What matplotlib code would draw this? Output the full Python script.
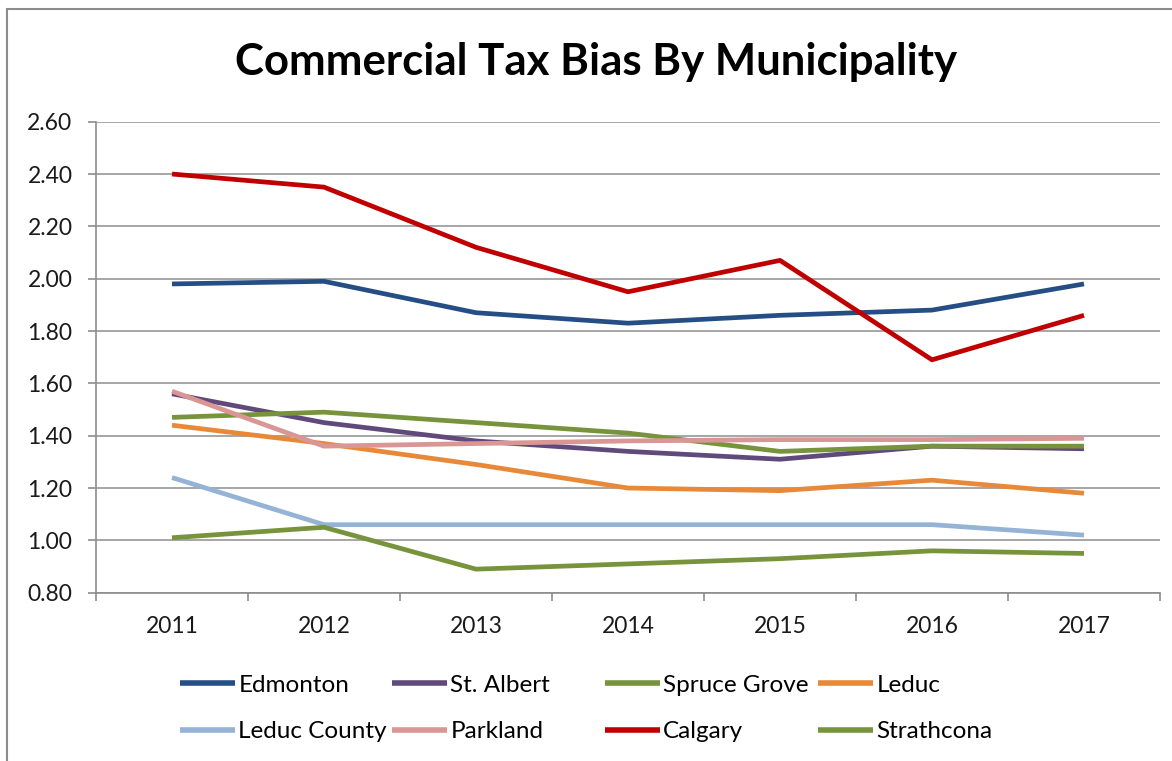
"""Commercial tax bias line chart by municipality."""

import matplotlib.pyplot as plt
from matplotlib.patches import Rectangle

years = ["2011", "2012", "2013", "2014", "2015", "2016", "2017"]

edmonton = [1.98, 1.99, 1.87, 1.83, 1.86, 1.88, 1.98]
st_albert = [1.56, 1.45, 1.38, 1.34, 1.31, 1.36, 1.35]
spruce_grove = [1.47, 1.49, 1.45, 1.41, 1.34, 1.36, 1.36]
leduc = [1.44, 1.37, 1.29, 1.20, 1.19, 1.23, 1.18]
leduc_county = [1.24, 1.06, 1.06, 1.06, 1.06, 1.06, 1.02]
parkland = [1.57, 1.36, 1.37, 1.38, 1.385, 1.385, 1.39]
calgary = [2.40, 2.35, 2.12, 1.95, 2.07, 1.69, 1.86]
strathcona = [1.01, 1.05, 0.89, 0.91, 0.93, 0.96, 0.95]

series = [
    ("Edmonton", edmonton, "#254E85"),
    ("St. Albert", st_albert, "#604A7B"),
    ("Spruce Grove", spruce_grove, "#77933C"),
    ("Leduc", leduc, "#E8893A"),
    ("Leduc County", leduc_county, "#95B3D7"),
    ("Parkland", parkland, "#D99694"),
    ("Calgary", calgary, "#C00000"),
    ("Strathcona", strathcona, "#77933C"),
]

y_ticks = [0.80, 1.00, 1.20, 1.40, 1.60, 1.80, 2.00, 2.20, 2.40, 2.60]

plt.rcParams["font.family"] = ["Lato", "DejaVu Sans"]
W, H = 1172, 761

fig = plt.figure(figsize=(W / 100, H / 100), dpi=100)
ax = fig.add_axes([96 / W, 1 - 592.7 / H, 1064 / W, 471 / H])

x = list(range(len(years)))
lines = []
for name, values, color in series:
    (ln,) = ax.plot(x, values, color=color, lw=3.4, label=name,
                    solid_capstyle="butt", solid_joinstyle="round")
    lines.append(ln)

ax.set_xlim(-0.5, len(years) - 0.5)
ax.set_ylim(0.80, 2.60)
ax.set_yticks(y_ticks)
ax.set_yticklabels([f"{v:.2f}" for v in y_ticks], fontsize=16.5, color="#1A1A1A")
ax.set_xticks(x)
ax.set_xticklabels(years, fontsize=16.5, color="#1A1A1A")
ax.tick_params(axis="x", length=0, pad=17)
ax.tick_params(axis="y", length=6, width=1.2, color="#8C8C8C", pad=11)
ax.set_xticks([i - 0.5 for i in range(len(years) + 1)], minor=True)
ax.tick_params(axis="x", which="minor", length=6, width=1.2, color="#8C8C8C")

ax.grid(axis="y", color="#A6A6A6", lw=1.4)
ax.set_axisbelow(True)
for side in ("top", "right"):
    ax.spines[side].set_visible(False)
for side in ("left", "bottom"):
    ax.spines[side].set_color("#8C8C8C")
    ax.spines[side].set_linewidth(1.2)

fig.text(596 / W, 1 - 62 / H, "Commercial Tax Bias By Municipality",
         ha="center", va="center", fontsize=31.5, fontweight="bold")

# legend laid out row by row in four equal-width columns
col_x = [180, 392, 605, 818]
for col, left in enumerate(col_x):
    handles = [lines[col], lines[col + 4]]
    leg = fig.legend(handles=handles, labels=[h.get_label() for h in handles],
                     loc="center left", bbox_to_anchor=(left / W, 1 - 708.5 / H),
                     frameon=False, fontsize=17.5, handlelength=2.25,
                     handletextpad=0.15, labelspacing=1.05,
                     borderaxespad=0, borderpad=0)
    for h in leg.legend_handles:
        h.set_linewidth(4.0)

# outer chart frame
fig.patches.append(Rectangle((7 / W, -0.05), 1.2, 1 - 9 / H + 0.05,
                             transform=fig.transFigure, fill=False,
                             edgecolor="#8C8C8C", lw=1.5))

fig.savefig("out.png", dpi=100)
plt.close(fig)
